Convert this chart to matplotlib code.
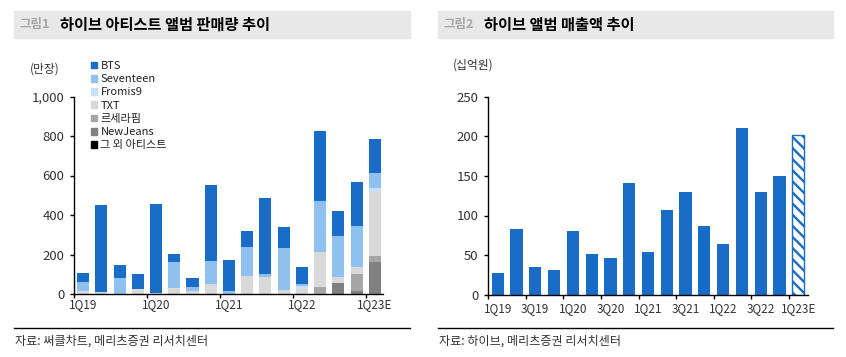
import numpy as np
import matplotlib
matplotlib.use("Agg")
import matplotlib.pyplot as plt
from matplotlib.patches import Rectangle, Patch
from matplotlib.lines import Line2D
from matplotlib.ticker import FuncFormatter

plt.rcParams['font.family'] = ['Noto Sans CJK KR', 'DejaVu Sans']
plt.rcParams['hatch.linewidth'] = 1.7

# 앨범 판매량 (만장)
quarters = ['1Q19', '2Q19', '3Q19', '4Q19', '1Q20', '2Q20', '3Q20', '4Q20', '1Q21',
            '2Q21', '3Q21', '4Q21', '1Q22', '2Q22', '3Q22', '4Q22', '1Q23E']
bts       = [45, 444, 64, 74, 449, 45, 48, 386, 156, 84, 385, 109, 86, 355, 126, 222, 171]
seventeen = [45, 0, 81, 0, 0, 131, 21, 115, 15, 146, 15, 212, 14, 258, 206, 208, 77]
fromis9   = [0, 0, 0, 0, 0, 0, 0, 0, 0, 0, 0, 0, 14, 0, 0, 0, 24]
txt       = [14, 8, 0, 25, 6, 29, 13, 50, 0, 91, 84, 20, 24, 175, 32, 35, 322]
lsf       = [0, 0, 0, 0, 0, 0, 0, 0, 0, 0, 0, 0, 0, 37, 0, 84, 31]
newjeans  = [0, 0, 0, 0, 0, 0, 0, 0, 0, 0, 0, 0, 0, 0, 54, 17, 161]
others    = [0] * 17

# 앨범 매출액 (십억원)
revenue = [27, 82.5, 34.5, 30.7, 80.8, 51.8, 46.7, 141, 54.3, 107.3, 129.6, 86.3,
           64.4, 210.9, 129.2, 149.4, 201.6]

blue = '#1a6dc6'
series = [
    ('그 외 아티스트', others, '#000000'),
    ('NewJeans', newjeans, '#808080'),
    ('르세라핌', lsf, '#a6a6a6'),
    ('TXT', txt, '#d9d9d9'),
    ('Fromis9', fromis9, '#c6e0f7'),
    ('Seventeen', seventeen, '#8fc1f0'),
    ('BTS', bts, blue),
]

W, H = 846, 357
fig = plt.figure(figsize=(W / 100, H / 100), dpi=100)

def fx(px):
    return px / W

def fy(py):
    return 1 - py / H

# title bands, source lines
for x0, x1, num, title, src in [
        (14, 410, '그림1', '하이브 아티스트 앨범 판매량 추이', '자료: 써클차트, 메리츠증권 리서치센터'),
        (438, 833, '그림2', '하이브 앨범 매출액 추이', '자료: 하이브, 메리츠증권 리서치센터')]:
    fig.patches.append(Rectangle((fx(x0), fy(38)), fx(x1 - x0), 27 / H,
                                 transform=fig.transFigure, color='#e8e8e8', zorder=0))
    fig.text(fx(x0 + 5), fy(24.5), num, fontsize=9, fontweight='bold', color='#a6a6a6',
             va='center', ha='left')
    fig.text(fx(x0 + 46), fy(24.5), title, fontsize=11, fontweight='bold', color='black',
             va='center', ha='left')
    fig.add_artist(Line2D([fx(x0), fx(x1)], [fy(328), fy(328)], transform=fig.transFigure,
                          color='black', lw=1))
    fig.text(fx(x0 + 1), fy(341), src, fontsize=8.7, color='#333333', va='center', ha='left')

x = np.arange(len(quarters))

# left: stacked album sales
ax1 = fig.add_axes([fx(74), fy(294), fx(383 - 74), (294 - 96.5) / H])
bottom = np.zeros(len(quarters))
for name, vals, col in series:
    ax1.bar(x, vals, 0.66, bottom=bottom, color=col, zorder=2)
    bottom += np.array(vals, dtype=float)
ax1.set_xlim(-0.5, 16.45)
ax1.set_ylim(0, 1000)
ax1.set_yticks(range(0, 1001, 200))
ax1.yaxis.set_major_formatter(FuncFormatter(lambda v, p: f'{int(v):,}'))
ax1.set_xticks(x[::4] - 0.5)
ax1.set_xticklabels([])
for i in x[::4]:
    ax1.text(i, -22, quarters[i], ha='center', va='top', fontsize=8.5, color='#333333')

order = ['BTS', 'Seventeen', 'Fromis9', 'TXT', '르세라핌', 'NewJeans', '그 외 아티스트']
colors = {n: c for n, _, c in series}
fig.legend([Patch(color=colors[n]) for n in order], order, loc='upper left',
           bbox_to_anchor=(fx(91), fy(61)), frameon=False, fontsize=8,
           handlelength=0.55, handleheight=0.55, handletextpad=0.3,
           labelspacing=0.29, borderpad=0, borderaxespad=0, labelcolor='#222222')
fig.text(fx(45), fy(69), '(만장)', fontsize=8.5, ha='center', va='center', color='#333333')

# right: album revenue
ax2 = fig.add_axes([fx(488.3), fy(294.7), fx(807.7 - 488.3), (294.7 - 96.7) / H])
ax2.bar(x[:-1], revenue[:-1], 0.65, color=blue, zorder=2)
ax2.bar(x[-1], revenue[-1], 0.65, color='white', edgecolor=blue, hatch='\\\\\\', lw=1, zorder=2)
ax2.set_xlim(-0.5, 16.5)
ax2.set_ylim(0, 250)
ax2.set_yticks(range(0, 251, 50))
ax2.set_xticks(x[::2] - 0.5)
ax2.set_xticklabels([])
for i in x[::2]:
    ax2.text(i, -9, quarters[i], ha='center', va='top', fontsize=8.5, color='#333333')
fig.text(fx(473), fy(65), '(십억원)', fontsize=8.5, ha='center', va='center', color='#333333')

for ax in (ax1, ax2):
    for s in ('top', 'right'):
        ax.spines[s].set_visible(False)
    for s in ('left', 'bottom'):
        ax.spines[s].set_color('black')
        ax.spines[s].set_linewidth(1)
    ax.tick_params(axis='both', direction='out', length=3, width=1, color='black')
    ax.tick_params(axis='y', labelsize=9.5, labelcolor='#333333', pad=4)
    ax.patch.set_alpha(0)

fig.savefig('out.png', dpi=100)
